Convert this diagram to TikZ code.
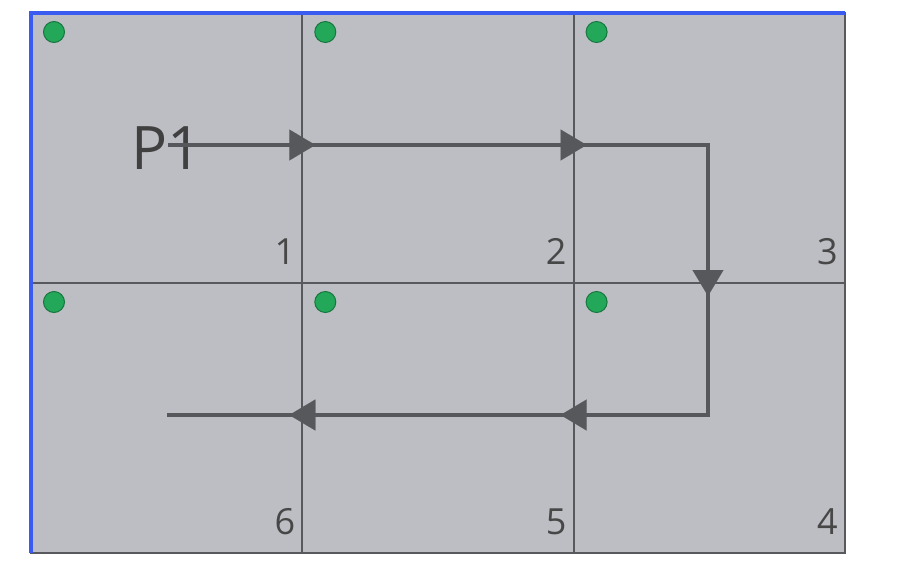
\documentclass[tikz,border=0pt]{standalone}
\usepackage{fontspec}
\setmainfont{Open Sans}
\usepackage{tikz}
\usetikzlibrary{arrows.meta,positioning}

\definecolor{cellgray}{HTML}{BDBEC3}
\definecolor{gridline}{HTML}{58595C}
\definecolor{edgeblue}{HTML}{3A5BF0}
\definecolor{dotgreen}{HTML}{23A85A}
\definecolor{flowgray}{HTML}{57585B}

\tikzset{
    cell/.style={rectangle, fill=cellgray, draw=gridline, line width=2.2pt,
        minimum width=271.3pt, minimum height=270pt, inner sep=0pt, outer sep=0pt},
    dot/.style={circle, fill=dotgreen, draw=dotgreen!70!black, line width=1pt,
        minimum size=21pt, inner sep=0pt},
    cellno/.style={anchor=base east, inner sep=0pt, text=black!72,
        font=\fontsize{36}{36}\selectfont},
    flow/.style={draw=flowgray, line width=3.6pt},
    flowtip/.style={draw=flowgray, line width=0.1pt,
        -{Triangle[length=26pt, width=31pt, fill=flowgray]}},
}

\begin{document}
\begin{tikzpicture}[x=1pt,y=-1pt]
    \useasboundingbox (0,0) rectangle (900,581);

    % the six cells
    \node[cell, anchor=north west] (c1) at (31,13) {};
    \node[cell, right=0pt of c1] (c2) {};
    \node[cell, right=0pt of c2] (c3) {};
    \node[cell, below=0pt of c1] (c6) {};
    \node[cell, right=0pt of c6] (c5) {};
    \node[cell, right=0pt of c5] (c4) {};

    \draw[edgeblue, line width=3.4pt] (c6.south west) -- (c1.north west) -- (c3.north east);

    \foreach \c in {1,...,6} {
        \node[dot] (d\c) at ([shift={(23pt,-19pt)}]c\c.north west) {};
        \node[cellno] (n\c) at ([shift={(-7pt,19pt)}]c\c.south east) {\c};
    }

    % path of P1
    \node[font=\fontsize{60}{60}\selectfont, text=black!75, inner sep=0pt] (p1) at (167,148) {P1};
    \coordinate (s) at (168,145);
    \coordinate (t1) at (708,145);
    \coordinate (t2) at (708,415);
    \coordinate (e) at (167,415);
    \coordinate (x1) at (c1.east |- s);
    \coordinate (x2) at (c2.east |- s);
    \coordinate (x3) at (c3.south -| t1);
    \coordinate (x4) at (c5.east |- e);
    \coordinate (x5) at (c6.east |- e);

    \draw[flow] (s) -- (t1) -- (t2) -- (e);
    \foreach \p/\d in {x1/0, x2/0, x3/-90, x4/180, x5/180}
        \draw[flowtip] ([shift={(\d:-14pt)}]\p) -- ([shift={(\d:13pt)}]\p);
\end{tikzpicture}
\end{document}
